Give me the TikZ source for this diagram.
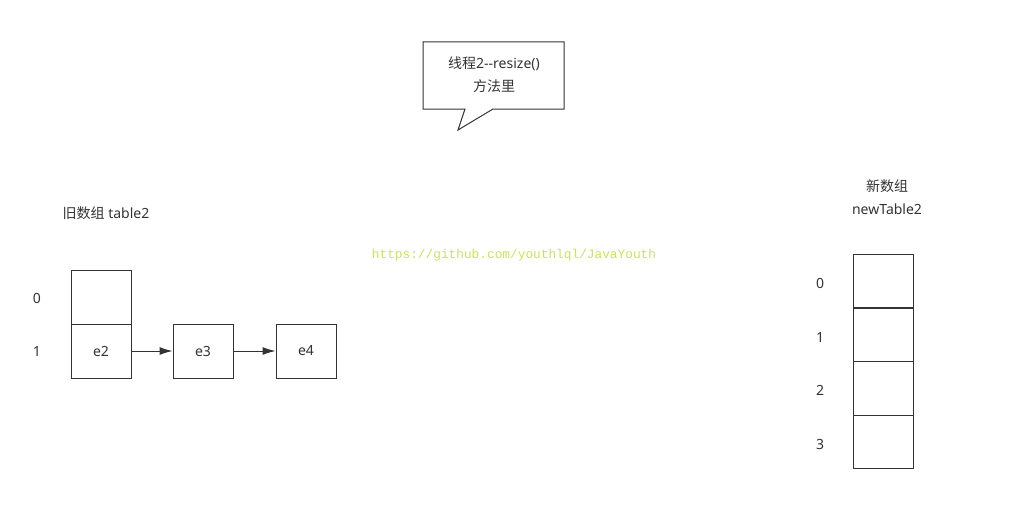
\documentclass[tikz,border=0pt]{standalone}
\usepackage{fontspec}
\usetikzlibrary{arrows.meta}
\setmainfont{Noto Sans}
\newfontfamily\cjk{Noto Sans CJK SC}
\newfontfamily\urlfont{Liberation Mono}
\definecolor{linegray}{HTML}{333333}
\definecolor{labelgray}{HTML}{333333}
\definecolor{urlgreen}{HTML}{C8E650}
\tikzset{
  cell/.style={draw=linegray, line width=1pt, minimum width=60pt, minimum height=54pt, inner sep=0pt},
  txt/.style={text=labelgray, font=\fontsize{14}{23}\selectfont, inner sep=0pt, align=center},
  link/.style={->, >={Latex[length=13pt,width=8pt]}, linegray, line width=1pt}
}
\begin{document}
\begin{tikzpicture}[x=1pt,y=-1pt]
  \useasboundingbox[fill=white] (0,0) rectangle (1025,511);
  % callout
  \draw[linegray, line width=1pt] (423,42) -- (564,42) -- (564,109) -- (493,109) -- (458,130) -- (465,109) -- (423,109) -- cycle;
  \node[txt] (note) at (494,75) {{\cjk 线程}2{-}{-}resize()\\{\cjk 方法里}};
  % old table
  \node[txt] (oldlabel) at (106,213) {{\cjk 旧数组} table2};
  \node[cell] (old0) at (101,297) {};
  \node[cell, txt] (old1) at (101,351) {e2};
  \node[cell, txt] (e3) at (203,351) {e3};
  \node[cell, txt] (e4) at (306,351) {e4};
  \draw[link] (old1) -- (e3);
  \draw[link] (e3) -- (e4);
  \node[txt] (oldidx0) at (37,298) {0};
  \node[txt] (oldidx1) at (37,351) {1};
  % watermark
  \node[text=urlgreen, font=\urlfont\fontsize{12.8}{14}\selectfont, inner sep=0pt] (url) at (514,255) {https://github.com/youthlql/JavaYouth};
  % new table
  \node[txt] (newlabel) at (887,197) {{\cjk 新数组}\\newTable2};
  \foreach \i/\y in {0/281,1/335,2/388.5,3/442}{
    \node[cell, minimum height=53.75pt] (new\i) at (883,\y) {};
    \node[txt] (newidx\i) at (820,\y+2) {\i};
  }
\end{tikzpicture}
\end{document}
